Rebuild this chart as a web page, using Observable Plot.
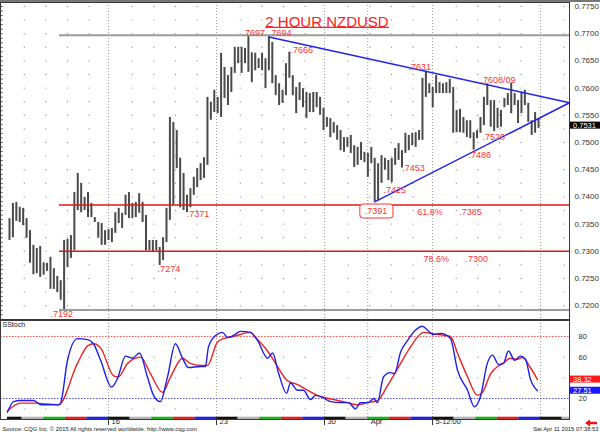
<!DOCTYPE html>
<html><head><meta charset="utf-8">
<script src="https://cdn.jsdelivr.net/npm/d3@7"></script>
<script src="https://cdn.jsdelivr.net/npm/@observablehq/plot@0.6"></script>
<style>
html,body{margin:0;padding:0;background:#fff;}
#chart{width:600px;height:434px;position:relative;overflow:hidden;background:#fff;}
#chart svg{display:block;}
</style></head><body><div id="chart"></div>
<script>
const FONT = "Arial, 'Liberation Sans', Helvetica, sans-serif";

// ---- price bars (2-hour bars, left to right) ----
const highs = [
0.7360,0.7388,0.7390,0.7381,0.7379,0.7360,0.7338,0.7311,0.7305,0.7309,
0.7279,0.7278,0.7289,0.7268,0.7254,0.7246,0.7320,0.7322,0.7329,0.7408,
0.7443,0.7425,0.7399,0.7408,0.7388,0.7362,0.7353,0.7351,0.7338,0.7340,
0.7342,0.7371,0.7379,0.7370,0.7403,0.7408,0.7388,0.7390,0.7406,0.7390,
0.7366,0.7320,0.7320,0.7320,0.7307,0.7325,0.7379,0.7546,0.7537,0.7522,
0.7471,0.7443,0.7403,0.7415,0.7436,0.7452,0.7461,0.7472,0.7583,0.7574,
0.7596,0.7583,0.7664,0.7638,0.7623,0.7638,0.7675,0.7675,0.7675,0.7673,
0.7697,0.7665,0.7664,0.7654,0.7664,0.7654,0.7694,0.7684,0.7623,0.7608,
0.7596,0.7645,0.7666,0.7623,0.7601,0.7610,0.7599,0.7592,0.7590,0.7592,
0.7592,0.7583,0.7563,0.7546,0.7544,0.7537,0.7531,0.7522,0.7509,0.7509,
0.7513,0.7494,0.7491,0.7500,0.7482,0.7480,0.7491,0.7471,0.7461,0.7476,
0.7471,0.7467,0.7471,0.7489,0.7498,0.7485,0.7517,0.7513,0.7517,0.7518,
0.7522,0.7618,0.7631,0.7608,0.7601,0.7623,0.7610,0.7608,0.7610,0.7616,
0.7601,0.7559,0.7561,0.7546,0.7540,0.7540,0.7518,0.7522,0.7546,0.7583,
0.7608,0.7577,0.7577,0.7563,0.7559,0.7581,0.7590,0.7609,0.7590,0.7577,
0.7592,0.7596,0.7572,0.7540,0.7555,0.7544];
const lows = [
0.7320,0.7325,0.7355,0.7353,0.7347,0.7324,0.7278,0.7257,0.7259,0.7252,
0.7256,0.7263,0.7230,0.7230,0.7224,0.7210,0.7192,0.7270,0.7287,0.7301,
0.7375,0.7371,0.7375,0.7362,0.7362,0.7353,0.7324,0.7311,0.7311,0.7320,
0.7316,0.7333,0.7351,0.7342,0.7366,0.7360,0.7360,0.7362,0.7370,0.7353,
0.7301,0.7301,0.7298,0.7301,0.7274,0.7283,0.7316,0.7357,0.7384,0.7452,
0.7380,0.7375,0.7371,0.7380,0.7403,0.7417,0.7430,0.7434,0.7458,0.7541,
0.7555,0.7553,0.7546,0.7581,0.7568,0.7592,0.7627,0.7645,0.7627,0.7645,
0.7629,0.7610,0.7632,0.7636,0.7632,0.7599,0.7632,0.7608,0.7586,0.7568,
0.7572,0.7586,0.7618,0.7586,0.7553,0.7577,0.7564,0.7544,0.7555,0.7555,
0.7564,0.7550,0.7522,0.7528,0.7509,0.7517,0.7504,0.7485,0.7482,0.7491,
0.7480,0.7454,0.7458,0.7467,0.7463,0.7436,0.7461,0.7391,0.7393,0.7425,
0.7449,0.7430,0.7426,0.7458,0.7467,0.7453,0.7480,0.7485,0.7494,0.7491,
0.7504,0.7504,0.7583,0.7590,0.7564,0.7590,0.7590,0.7590,0.7590,0.7590,
0.7517,0.7518,0.7518,0.7517,0.7509,0.7507,0.7486,0.7507,0.7517,0.7531,
0.7568,0.7528,0.7520,0.7526,0.7528,0.7564,0.7568,0.7553,0.7568,0.7535,
0.7553,0.7568,0.7537,0.7513,0.7517,0.7526];
const lastPrice = 0.7531;

// ---- price axis ticks ----
const priceTicks = [0.7200,0.7250,0.7300,0.7350,0.7400,0.7450,0.7500,0.7550,0.7600,0.7650,0.7700,0.7750];

// ---- annotations (bar index, price) ----
const labelText  = [".7697",".7694",".7666",".7631",".7608/09",".7520",".7486",".7453",".7425",".7391","61.8%",".7385","78.6%",".7300",".7371",".7274",".7192"];
const labelIdx   = [68.3,76.0,82.3,116.9,138.0,138.6,134.5,115.1,109.6,104.1,119.5,131.8,121.3,133.6,51.9,43.4,12.0];
const labelPrice = [0.77013,0.77004,0.76700,0.76388,0.76140,0.75101,0.74761,0.74531,0.74118,0.73732,0.73722,0.73722,0.72858,0.72858,0.73686,0.72666,0.71848];

// horizontal levels
const grayLevels = [0.7697, 0.7192];
const fibLevels  = [0.7385, 0.7300];
const levelStartIdx = 14.65;
// triangle
const apexPrice = 0.7573;
const upperStart = {i: 76, p: 0.7694};
const lowerStart = {i: 107, p: 0.7391};

// ---- stochastics ----
const stochKIdx = [-0.6,1.2,3.2,7.0,8.2,9.1,14.4,14.9,17.0,19.9,22.9,24.6,26.7,29.9,31.6,34.0,36.0,38.1,40.4,42.2,44.2,46.3,48.6,50.7,52.4,56.0,57.4,58.3,60.4,62.4,63.9,65.6,67.7,70.6,72.7,75.6,77.1,78.8,81.2,82.3,84.4,86.1,88.2,89.7,91.7,94.1,97.0,99.3,101.4,102.8,105.2,106.7,107.8,109.6,111.6,112.8,114.6,116.6,118.9,121.0,122.5,124.2,126.3,129.2,131.3,134.2,136.2,138.0,140.0,141.5,143.3,144.7,146.2,148.0,149.7,151.2,152.6,154.7];
const stochK    = [6.7,17,18,18,16,14,14,15,57,78,77,73,57,31,39,61,59,64,41,23,17,41,73,59,50,51,51,70,81,84,79,81,85,84,76,59,64,45,25,35,28,28,19,23,21,17,16,16,10,16,16,20,16,41,45,44,65,76,86,90,86,82,83,78,47,28,12,22,54,62,53,54,66,57,61,58,39,27.51];
const stochDIdx = [-0.6,3.2,7.0,14.4,19.9,22.9,24.6,26.7,30.5,31.9,34.6,38.4,41.3,44.8,47.2,50.7,53.0,56.0,58.0,60.9,62.7,65.6,70.6,72.1,75.6,77.4,81.5,84.4,87.3,90.2,94.9,99.0,101.9,104.9,107.8,110.8,114.6,117.5,121.3,124.2,129.2,131.3,134.2,137.1,138.6,141.0,143.0,144.7,146.7,148.8,150.3,152.6,154.7];
const stochD    = [8,15.5,15.5,14,54,71,73,69,42,41,54,60,44,26,41,59,54,52,52,74.5,78,80,84,79,66,57,37,33.5,28,23,19,16,14,16,18,32.6,54,70,84,82.6,80,63.5,41,23,26,44,51,54,59,58,59.6,50,38.32];
const stochTicks = [20,60,80];

// ---- time axis ----
const dateDays  = [5, 10, 15, 17, 20];
const dateText  = ["16", "23", "30", "Apr", "5-12:00"];
const weekTickDays = [5, 10, 15, 20];
const gridLineDays = [5, 10, 15, 17, 20, 25];
const dayColors = ["#111111", "#b4b4b4", "#1fb31f", "#e02222", "#2222dd"];

// ---- scale helpers ----
const BARS_PER_DAY = 6.3287;
const X0 = -2.637;
const dayIdx = d => X0 + d * BARS_PER_DAY;
const X1 = dayIdx(26.343);

const bars = highs.map((h, i) => ({i, high: h, low: lows[i]}));
const labels = labelText.map((t, k) => ({t, i: labelIdx[k], p: labelPrice[k]}));
const dotDays = d3.range(1, 27).filter(k => k % 5 !== 0).map(k => k + 0.1);
const priceGrid = d3.range(23).map(j => 0.72 + j * 0.0025);
const gridDots = dotDays.flatMap(d => priceGrid.map(p => ({x: dayIdx(d), y: p})));
const leftTicks = d3.range(72).map(j => 0.7175 + j * 0.0025 / 3);
const kData = stochKIdx.map((i, k) => ({i, v: stochK[k]}));
const dData = stochDIdx.map((i, k) => ({i, v: stochD[k]}));
const stochDots = dotDays.flatMap(d => [60, 40, 10].map(v => ({x: dayIdx(d), y: v})));
const daySegs = d3.range(27).map(k => ({x1: Math.max(dayIdx(k), -0.6), x2: Math.min(dayIdx(k + 1), X1), c: dayColors[k % 5]}));

const RED = "#ff3535";
const main = Plot.plot({
  width: 600, height: 320,
  marginLeft: 0, marginRight: 31, marginTop: 2, marginBottom: 1,
  x: {domain: [X0, X1], axis: null},
  y: {domain: [0.717465, 0.775735], axis: "right", ticks: priceTicks, tickFormat: d => d.toFixed(4), tickSize: 0, tickPadding: 5, label: null},
  style: {fontFamily: FONT, fontSize: "8px", color: "#333", background: "white"},
  marks: [
    Plot.ruleX(gridLineDays, {x: d => dayIdx(d), stroke: "#9a9a9a", strokeDasharray: "1,2"}),
    Plot.dot(gridDots, {x: "x", y: "y", r: 0.7, fill: "#9a9a9a"}),
    Plot.ruleY(leftTicks, {x1: X0, x2: X0 + 0.8, stroke: "#555"}),
    Plot.ruleX(bars, {x: "i", y1: "low", y2: "high", stroke: "#4a4a4a", strokeWidth: 2}),
    Plot.ruleY(grayLevels, {x1: levelStartIdx, x2: X1, stroke: "#9c9c9c", strokeWidth: 2}),
    Plot.ruleY(fibLevels, {x1: levelStartIdx, x2: X1, stroke: "#e41414", strokeWidth: 1.5}),
    Plot.line([upperStart, {i: X1, p: apexPrice}], {x: "i", y: "p", stroke: "#2323e6", strokeWidth: 1.5}),
    Plot.line([lowerStart, {i: X1, p: apexPrice}], {x: "i", y: "p", stroke: "#2323e6", strokeWidth: 1.5}),
    Plot.rect([{x1: 102.8, x2: 112.5, y1: 0.73603, y2: 0.73860}], {x1: "x1", x2: "x2", y1: "y1", y2: "y2", fill: "white", stroke: RED, rx: 3}),
    Plot.text(labels, {x: "i", y: "p", text: "t", textAnchor: "start", fill: RED, fontSize: 9, fontFamily: FONT}),
    Plot.text(["2 HOUR NZDUSD"], {frameAnchor: "top", text: d => d, dx: 42, dy: 13.5, fill: "#ff2020", fontSize: 15, fontFamily: FONT}),
    Plot.frame({stroke: "#3a3a3a"})
  ]
});

const stoch = Plot.plot({
  width: 600, height: 114,
  marginLeft: 0, marginRight: 31, marginTop: 0, marginBottom: 15,
  x: {domain: [X0, X1], axis: null},
  y: {domain: [-0.33, 95.5], axis: "right", ticks: stochTicks, tickSize: 0, tickPadding: 9, label: null},
  style: {fontFamily: FONT, fontSize: "7.5px", color: "#333", background: "white"},
  marks: [
    Plot.ruleX(gridLineDays, {x: d => dayIdx(d), stroke: "#9a9a9a", strokeDasharray: "1,2"}),
    Plot.dot(stochDots, {x: "x", y: "y", r: 0.7, fill: "#9a9a9a"}),
    Plot.ruleY([80], {stroke: "#ff5050", strokeDasharray: "1.5,1.5"}),
    Plot.ruleY([20], {stroke: "#5050ff", strokeDasharray: "1.5,1.5"}),
    Plot.line(dData, {x: "i", y: "v", stroke: "#ee2222", strokeWidth: 1.4, curve: "monotone-x"}),
    Plot.line(kData, {x: "i", y: "v", stroke: "#1f1fe8", strokeWidth: 1.4, curve: "monotone-x"}),
    Plot.rect(daySegs, {x1: "x1", x2: "x2", y1: -0.33, y2: 1.9, fill: "c"}),
    Plot.frame({stroke: "#3a3a3a"}),
    Plot.ruleX(weekTickDays, {x: d => dayIdx(d), y1: 1.6, y2: -6.2, stroke: "#333"}),
    Plot.text(dateDays.map((d, k) => ({d, t: dateText[k]})), {x: d => dayIdx(d.d), frameAnchor: "bottom", text: "t", textAnchor: "start", dx: 3, dy: 4.5, fontSize: 7.5, fill: "#222", fontFamily: FONT}),
    Plot.text(["SStoch"], {frameAnchor: "top-left", text: d => d, textAnchor: "start", lineAnchor: "top", dx: 2, dy: 1.5, fontSize: 7, fill: "#222", fontFamily: FONT}),
    Plot.text(["Source: CQG Inc. © 2015 All rights reserved worldwide. http://www.cqg.com"], {frameAnchor: "bottom-left", text: d => d, textAnchor: "start", dx: 2, dy: 11, fontSize: 5.8, fill: "#222", fontFamily: FONT}),
    Plot.text(["Sat Apr 11 2015 07:38:53"], {frameAnchor: "bottom-right", text: d => d, textAnchor: "end", dx: 29, dy: 11, fontSize: 5.8, fill: "#222", fontFamily: FONT})
  ]
});

const root = document.getElementById("chart");
root.appendChild(main);
root.appendChild(stoch);

function yApply(plot, v) {
  const s = plot.scale("y");
  if (s.apply) return s.apply(v);
  return d3.scaleLinear(s.domain, s.range)(v);
}
function valueBox(svg, y, text, bg, fg) {
  const g = d3.select(svg).append("g").attr("text-anchor", "start");
  g.append("rect").attr("x", 570).attr("y", y - 3.5).attr("width", 30).attr("height", 7).attr("fill", bg);
  g.append("text").attr("x", 573).attr("y", y).attr("dy", "0.35em").attr("fill", fg)
    .attr("text-anchor", "start").attr("font-size", 7.5).attr("font-family", FONT).text(text);
}
// top bar
d3.select(main).append("rect").attr("x", 0).attr("y", 0).attr("width", 600).attr("height", 2).attr("fill", "#777");
valueBox(main, yApply(main, lastPrice), lastPrice.toFixed(4), "#000", "#fff");
valueBox(stoch, yApply(stoch, stochD[stochD.length - 1]), stochD[stochD.length - 1].toFixed(2), "#ff1a1a", "#fff");
valueBox(stoch, yApply(stoch, stochK[stochK.length - 1]), stochK[stochK.length - 1].toFixed(2), "#1a1aff", "#fff");
// arrow
d3.select(stoch).append("path").attr("d", "M585,103 L590,99.5 L590,101.7 L597,101.7 L597,104.3 L590,104.3 L590,106.5 Z").attr("fill", "#ee1111");
// underline title (in the text's own transformed coordinates)
d3.select(main).selectAll("text").filter(function () { return this.textContent === "2 HOUR NZDUSD"; }).each(function () {
  const bb = this.getBBox();
  const tr = this.getAttribute("transform");
  const ln = d3.select(this.parentNode).append("line").attr("x1", bb.x).attr("x2", bb.x + bb.width)
    .attr("y1", bb.y + bb.height - 2.2).attr("y2", bb.y + bb.height - 2.2)
    .attr("stroke", "#ff2020").attr("stroke-width", 1.2);
  if (tr) ln.attr("transform", tr);
});
</script></body></html>
